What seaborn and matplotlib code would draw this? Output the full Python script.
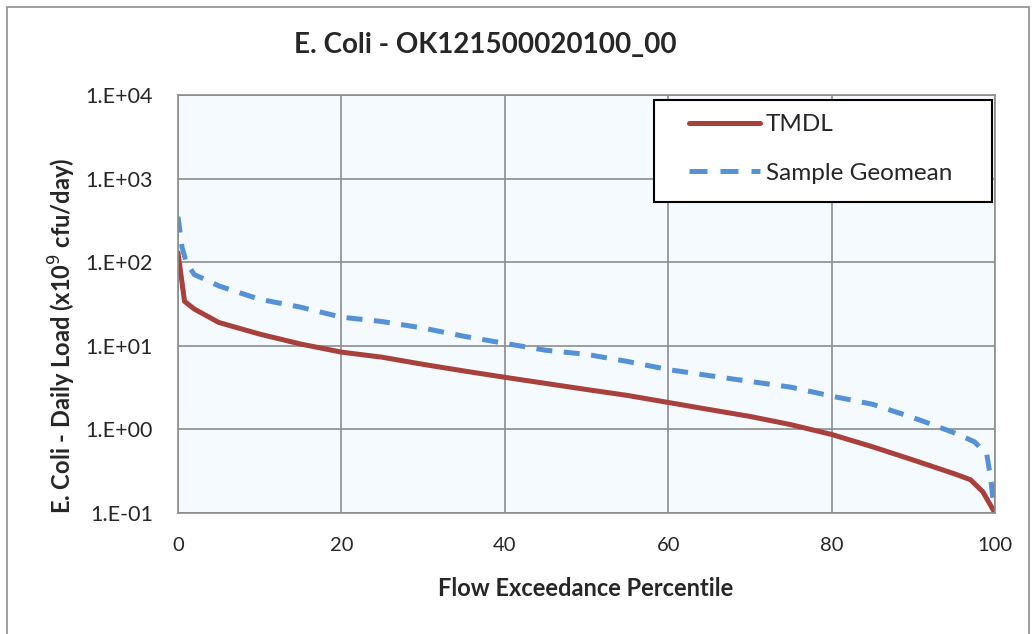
import numpy as np
import pandas as pd
import matplotlib.pyplot as plt
import seaborn as sns
from matplotlib.patches import Rectangle

# values
tmdl_pct = [0, 0.8, 2, 5, 10, 15, 20, 25, 30, 35, 40, 45, 50, 55, 60, 65,
            70, 75, 80, 85, 90, 95, 97, 98.5, 100]
tmdl_load = [130, 34, 27.5, 19, 13.8, 10.5, 8.4, 7.3, 6.0, 5.0, 4.2, 3.55, 3.0,
             2.55, 2.1, 1.73, 1.43, 1.14, 0.87, 0.62, 0.43, 0.295, 0.25, 0.18, 0.1]

geo_pct = [0, 0.5, 1, 2, 4, 5, 10, 15, 20, 25, 30, 35, 40, 45, 50, 55, 60, 65,
           70, 75, 80, 85, 90, 93, 95, 97.5, 99, 99.5, 99.8]
geo_load = [350, 150, 100, 71, 58, 52, 36, 29, 22, 19.5, 16.3, 13, 10.7, 8.85,
            7.9, 6.5, 5.2, 4.4, 3.75, 3.2, 2.5, 2.0, 1.38, 1.08, 0.91, 0.71,
            0.5, 0.25, 0.13]

y_ticks = [1e-1, 1e0, 1e1, 1e2, 1e3, 1e4]
y_tick_labels = ["1.E-01", "1.E+00", "1.E+01", "1.E+02", "1.E+03", "1.E+04"]

RED = "#A8403C"
BLUE = "#5591D6"
DASH = (3.2, 2.3)
W, H = 1033, 634

sns.set_style("white")
plt.rcParams["font.family"] = ["Lato", "DejaVu Sans"]

df = pd.concat([
    pd.DataFrame({"pct": tmdl_pct, "load": tmdl_load, "series": "TMDL"}),
    pd.DataFrame({"pct": geo_pct, "load": geo_load, "series": "Sample Geomean"}),
])

fig = plt.figure(figsize=(W / 100, H / 100), dpi=100)
ax = fig.add_axes([178 / W, 1 - 513 / H, 817 / W, 418 / H])
ax.set_facecolor("#F5FAFE")

sns.lineplot(data=df, x="pct", y="load", hue="series", style="series",
             palette={"TMDL": RED, "Sample Geomean": BLUE},
             dashes={"TMDL": "", "Sample Geomean": DASH},
             linewidth=3.6, ax=ax, legend=False, sort=False)

ax.set_yscale("log")
ax.set_xlim(0, 100)
ax.set_ylim(1e-1, 1e4)
ax.set_xticks([0, 20, 40, 60, 80, 100])
ax.set_yticks(y_ticks)
ax.set_yticklabels(y_tick_labels)
ax.minorticks_off()
ax.tick_params(axis="x", labelsize=14.5, length=0, pad=17)
ax.tick_params(axis="y", labelsize=15.5, length=0, pad=18)
ax.grid(True, color="#8C8C8C", linewidth=1.2)
ax.set_axisbelow(True)
for s in ax.spines.values():
    s.set_color("#8C8C8C")
    s.set_linewidth(1.2)
ax.set_xlabel("")
ax.set_ylabel("")

fig.text(586 / W, 1 - 588 / H, "Flow Exceedance Percentile",
         ha="center", va="center", fontsize=17, fontweight="bold")
fig.text(62 / W, 1 - 336 / H, "E. Coli - Daily Load (x10$^{9}$ cfu/day)",
         ha="center", va="center", rotation=90, fontsize=17, fontweight="bold")
fig.text(485 / W, 1 - 45 / H, "E. Coli - OK121500020100_00",
         ha="center", va="center", fontsize=20, fontweight="bold")

# legend box drawn as a plain rectangle, entries placed inside it
fig.patches.append(Rectangle((654 / W, 1 - 202 / H), 338 / W, 102 / H,
                             transform=fig.transFigure, facecolor="white",
                             edgecolor="black", linewidth=1.5, zorder=3))
handles = [plt.Line2D([], [], color=RED, lw=3.6),
           plt.Line2D([], [], color=BLUE, lw=3.6, dashes=(3.6, 2.6))]
leg = fig.legend(handles, ["TMDL", "Sample Geomean"], loc="upper left",
                 bbox_to_anchor=(689 / W, 1 - 114 / H), fontsize=17.5,
                 frameon=False, handlelength=2.92, borderpad=0,
                 labelspacing=1.14, handletextpad=0.25, borderaxespad=0)
leg.set_zorder(4)

fig.patches.append(Rectangle((7 / W, -0.05), 1022 / W, 1.05 - 7 / H,
                             transform=fig.transFigure, fill=False,
                             edgecolor="#8C8C8C", linewidth=1.2))

plt.savefig("out.png", dpi=100)
plt.close()
